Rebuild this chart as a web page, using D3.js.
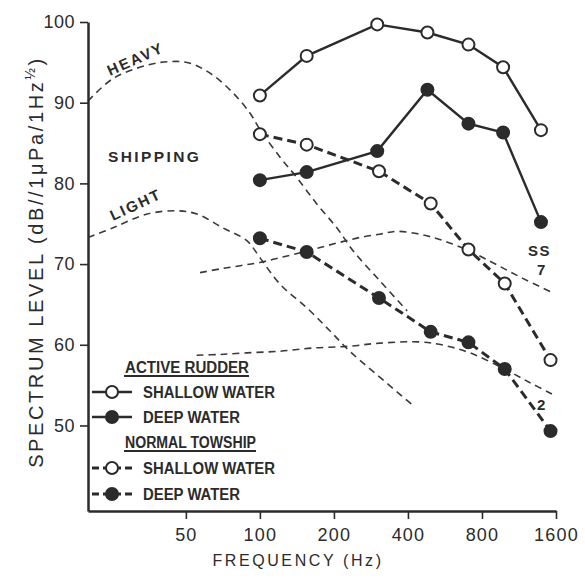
<!DOCTYPE html>
<html>
<head>
<meta charset="utf-8">
<script src="https://cdn.jsdelivr.net/npm/d3@7"></script>
<style>
  html, body { margin: 0; padding: 0; background: #fff; }
  svg { display: block; }
</style>
</head>
<body>
<svg id="chart" width="585" height="581"></svg>
<script>
// Axis ticks
const xTicks = [50, 100, 200, 400, 800, 1600];
const yTicks = [50, 60, 70, 80, 90, 100];

// Active rudder measurements (Hz, dB)
const rudderFreq = [100, 155, 300, 480, 705, 975, 1390];
const rudderShallow = [90.9, 95.8, 99.7, 98.7, 97.2, 94.4, 86.6];
const rudderDeep = [80.4, 81.4, 84.0, 91.6, 87.4, 86.3, 75.2];

// Normal towship measurements (Hz, dB)
const towFreq = [100, 155, 305, 495, 705, 990, 1520];
const towShallow = [86.1, 84.8, 81.5, 77.5, 71.8, 67.6, 58.1];
const towDeep = [73.2, 71.5, 65.8, 61.6, 60.3, 57.0, 49.3];

// Ambient noise: shipping traffic
const heavyFreq = [20, 25.3, 34.8, 43.2, 52, 64.5, 77.8, 91.2, 100.4, 120.8, 141, 170.4, 205.5, 240, 308, 397];
const heavyLevel = [90.2, 93.0, 94.65, 95.1, 94.9, 93.4, 91.2, 88.7, 86.6, 83.25, 80.76, 77.45, 74.5, 71.6, 67.9, 64.2];
const lightFreq = [20, 25.3, 34.8, 45.9, 55.5, 70.6, 88.5, 100, 120.8, 155, 193, 232, 299, 415];
const lightLevel = [73.3, 74.5, 76.2, 76.6, 76.2, 74.5, 72.9, 70.8, 67.5, 64.6, 61.7, 59.2, 56.3, 52.6];

// Ambient noise: sea state
const seaHighFreq = [57.1, 68.9, 83.1, 100, 120.8, 145.9, 175.7, 211.5, 255.6, 307, 360, 448, 557, 715, 920, 1178, 1540];
const seaHighLevel = [68.94, 69.4, 69.8, 70.2, 70.8, 71.4, 72.05, 72.7, 73.3, 73.7, 74.05, 73.7, 72.9, 71.6, 69.9, 68.2, 66.5];
const seaLowFreq = [55.3, 68.9, 88.5, 120.8, 164, 227, 307, 448, 557, 715, 972, 1255, 1540];
const seaLowLevel = [58.7, 58.8, 59.0, 59.2, 59.6, 59.8, 60.2, 60.35, 59.95, 59.0, 57.1, 55.3, 53.9];

const ink = "#2b2b2b";
const svg = d3.select("#chart");

const x = d3.scaleLog().domain([20, 1600]).range([88, 556]);
const y = d3.scaleLinear().domain([39.4, 100]).range([511, 22]);

const zip = (fs, vs) => fs.map((f, i) => ({ f, v: vs[i] }));

const smooth = d3.line().x(d => x(d.f)).y(d => y(d.v)).curve(d3.curveCatmullRom.alpha(0.5));
const straight = d3.line().x(d => x(d.f)).y(d => y(d.v));

// Thin dashed background noise curves
const gNoise = svg.append("g")
  .attr("fill", "none").attr("stroke", "#3a3a3a")
  .attr("stroke-width", 1.6).attr("stroke-dasharray", "7,5");
[[heavyFreq, heavyLevel], [lightFreq, lightLevel], [seaHighFreq, seaHighLevel], [seaLowFreq, seaLowLevel]]
  .forEach(([fs, vs]) => gNoise.append("path").attr("d", smooth(zip(fs, vs))));

// Measured series
const series = [
  { freq: towFreq, vals: towShallow, dashed: true, filled: false },
  { freq: towFreq, vals: towDeep, dashed: true, filled: true },
  { freq: rudderFreq, vals: rudderShallow, dashed: false, filled: false },
  { freq: rudderFreq, vals: rudderDeep, dashed: false, filled: true }
];

series.forEach(s => {
  const pts = zip(s.freq, s.vals);
  svg.append("path")
    .attr("d", straight(pts))
    .attr("fill", "none")
    .attr("stroke", ink)
    .attr("stroke-width", s.dashed ? 3 : 2.4)
    .attr("stroke-dasharray", s.dashed ? "9,5" : null);
  svg.append("g").selectAll("circle").data(pts).join("circle")
    .attr("cx", d => x(d.f)).attr("cy", d => y(d.v)).attr("r", 6)
    .attr("fill", s.filled ? ink : "#fff")
    .attr("stroke", ink).attr("stroke-width", 2);
});

// Axes
const baseFont = "'Liberation Sans', Arial, sans-serif";
const xAxis = svg.append("g").attr("transform", `translate(0,${y.range()[0]})`)
  .call(d3.axisBottom(x).tickValues(xTicks).tickFormat(d3.format("d")).tickSize(8).tickSizeOuter(0).tickPadding(9));
const yAxis = svg.append("g").attr("transform", `translate(${x.range()[0]},0)`)
  .call(d3.axisLeft(y).tickValues(yTicks).tickSize(8).tickSizeOuter(0).tickPadding(5));

[xAxis, yAxis].forEach(g => {
  g.select(".domain").attr("stroke", ink).attr("stroke-width", 2.5);
  g.selectAll(".tick line").attr("stroke", ink).attr("stroke-width", 1.6);
  g.selectAll(".tick text")
    .attr("fill", ink)
    .style("font-family", baseFont)
    .style("font-size", "18px");
});
yAxis.selectAll(".tick text").style("letter-spacing", "0.5px");
xAxis.selectAll(".tick text").style("letter-spacing", "1.2px");

// Axis titles
svg.append("text")
  .attr("x", 298).attr("y", 566)
  .attr("text-anchor", "middle")
  .attr("fill", ink)
  .style("font-family", baseFont)
  .style("font-size", "16px")
  .style("letter-spacing", "2.6px")
  .text("FREQUENCY  (Hz)");

const yTitle = svg.append("text")
  .attr("transform", "translate(43,262) rotate(-90)")
  .attr("text-anchor", "middle")
  .attr("fill", ink)
  .style("font-family", baseFont)
  .style("font-size", "20px")
  .style("letter-spacing", "2.6px");
yTitle.append("tspan").text("SPECTRUM  LEVEL (dB//1\u03BCPa/1Hz");
yTitle.append("tspan").attr("dy", -8).style("font-size", "14px").text("\u00BD");
yTitle.append("tspan").attr("dy", 8).text(")");

// Curve annotations
const ann = (txt, px, py, rot, size, spacing) => svg.append("text")
  .attr("transform", `translate(${px},${py}) rotate(${rot})`)
  .attr("fill", ink)
  .style("font-family", baseFont)
  .style("font-weight", "bold")
  .style("font-size", size + "px")
  .style("letter-spacing", spacing + "px")
  .text(txt);
ann("HEAVY", 110, 76, -24, 15, 2);
ann("SHIPPING", 108, 162, 0, 15.5, 2.4);
ann("LIGHT", 113, 221, -25, 15, 2);
ann("SS", 528, 256, 0, 15, 1.5);
ann("7", 537, 275, 0, 15, 0);
ann("2", 537, 410, 0, 15, 0);

// Legend
const legend = svg.append("g");
const legText = (txt, lx, ly, len) => legend.append("text")
  .attr("x", lx).attr("y", ly)
  .attr("textLength", len).attr("lengthAdjust", "spacingAndGlyphs")
  .attr("fill", ink)
  .style("font-family", baseFont)
  .style("font-weight", "bold")
  .style("font-size", "16px")
  .text(txt);
const heading = (txt, ly, len) => {
  legText(txt, 125, ly, len);
  legend.append("line")
    .attr("x1", 124).attr("x2", 125 + len).attr("y1", ly + 3).attr("y2", ly + 3)
    .attr("stroke", ink).attr("stroke-width", 1.8);
};
const entry = (txt, ly, len, dashed, filled) => {
  legend.append("line")
    .attr("x1", 92).attr("x2", 132).attr("y1", ly).attr("y2", ly)
    .attr("stroke", ink)
    .attr("stroke-width", dashed ? 3 : 2.4)
    .attr("stroke-dasharray", dashed ? "7,4" : null);
  legend.append("circle")
    .attr("cx", 112).attr("cy", ly).attr("r", 6)
    .attr("fill", filled ? ink : "#fff")
    .attr("stroke", ink).attr("stroke-width", 2);
  legText(txt, 143, ly + 6, len);
};
heading("ACTIVE RUDDER", 373, 124);
entry("SHALLOW  WATER", 392, 132, false, false);
entry("DEEP  WATER", 417, 97, false, true);
heading("NORMAL TOWSHIP", 448, 131);
entry("SHALLOW  WATER", 468, 132, true, false);
entry("DEEP  WATER", 494, 97, true, true);
</script>
</body>
</html>
